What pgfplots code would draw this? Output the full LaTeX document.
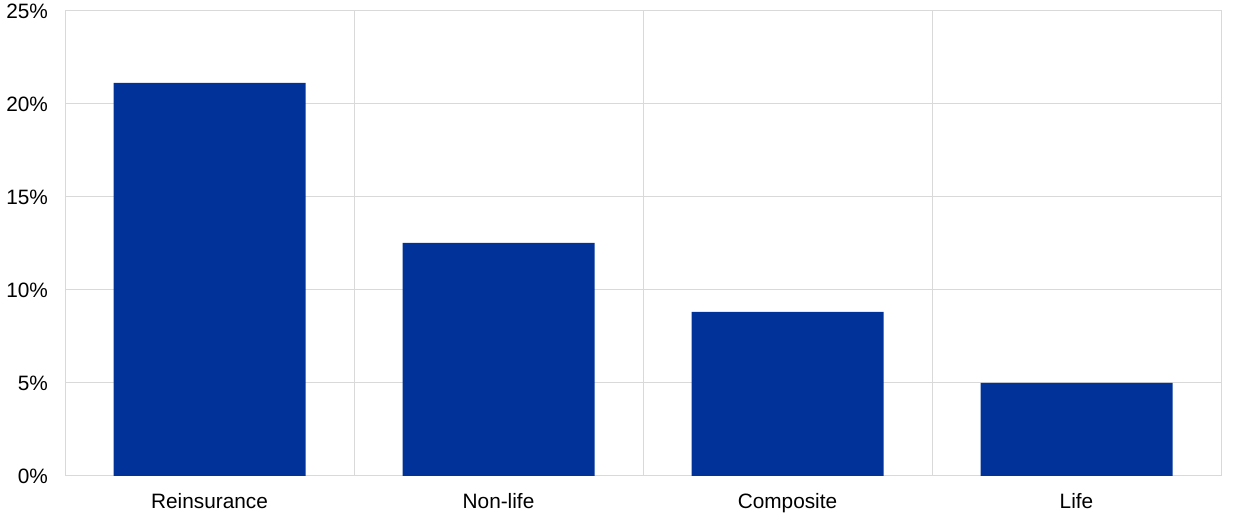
\documentclass[border=0pt]{standalone}
\usepackage{pgfplots}
\pgfplotsset{compat=1.18}
\usepackage{fontspec}
\setmainfont{Liberation Sans}
\definecolor{ecbblue}{RGB}{0,50,153}
\definecolor{gridgray}{RGB}{217,217,217}
\begin{document}
\begin{tikzpicture}
\path[use as bounding box] (0,0) rectangle (620pt,259pt);
\begin{axis}[
  at={(32.5pt,21pt)}, anchor=south west,
  scale only axis, width=578pt, height=232.5pt,
  xmin=-0.5, xmax=3.5, ymin=0, ymax=25,
  xtick={0,1,2,3},
  xticklabels={Reinsurance,Non-life,Composite,Life},
  minor xtick={0.5,1.5,2.5},
  xminorgrids, ymajorgrids,
  ytick={0,5,10,15,20,25},
  yticklabels={0\%,5\%,10\%,15\%,20\%,25\%},
  major tick length=0pt, minor tick length=0pt,
  grid style={gridgray, line width=0.5pt},
  minor grid style={gridgray, line width=0.5pt},
  axis line style={gridgray, line width=0.5pt},
  tick label style={font=\fontsize{10.4}{12}\selectfont, text=black},
  yticklabel style={xshift=-5pt},
  xticklabel style={yshift=-5pt},
]
\addplot[ybar, bar width=96pt, fill=ecbblue, draw=none] coordinates {
  (0,21.13) (1,12.53) (2,8.82) (3,5.0)
};
\end{axis}
\end{tikzpicture}
\end{document}
